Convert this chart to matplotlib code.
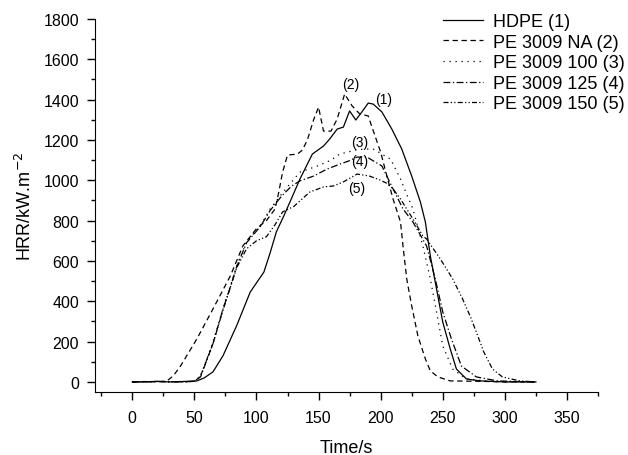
import matplotlib
matplotlib.use("Agg")
import matplotlib.pyplot as plt
from matplotlib.ticker import MultipleLocator

plt.rcParams['font.family'] = ['Liberation Sans', 'DejaVu Sans']

# HDPE (1)
t1 = [0, 10, 20, 30, 40, 52, 58, 65, 73, 84, 95, 106, 111, 116, 122, 128, 135, 145, 154, 159,
      165, 170, 175, 180, 185, 190, 194, 201, 209, 217, 225, 232, 236, 240, 245, 250, 256, 261,
      269, 280, 300, 325]
v1 = [0, 0, 3, 0, 2, 5, 20, 50, 129, 278, 446, 545, 640, 744, 823, 907, 1006, 1130, 1170, 1205,
      1254, 1264, 1344, 1299, 1340, 1383, 1378, 1339, 1254, 1155, 1021, 892, 793, 625, 461, 297,
      164, 64, 15, 5, 0, 0]

# PE 3009 NA (2)
t2 = [0, 10, 20, 28, 33, 39, 52, 65, 79, 89, 100, 108, 115, 118, 121, 125, 133, 137, 141, 146,
      150, 154, 160, 165, 171, 177, 183, 190, 193, 200, 205, 210, 216, 218, 221, 225, 230, 236,
      240, 246, 256, 280, 300, 325]
v2 = [0, 2, 0, 5, 30, 80, 213, 362, 526, 674, 760, 800, 858, 942, 1040, 1125, 1130, 1150, 1200,
      1300, 1363, 1244, 1244, 1304, 1428, 1369, 1330, 1319, 1264, 1140, 1021, 907, 793, 674, 511,
      377, 228, 114, 55, 25, 5, 3, 0, 0]

# PE 3009 100 (3)
t3 = [0, 20, 40, 50, 55, 65, 73, 79, 84, 92, 103, 111, 120, 128, 135, 149, 160, 167, 180, 187,
      194, 201, 208, 216, 221, 226, 234, 240, 245, 250, 258, 269, 285, 300, 325]
v3 = [0, 2, 0, 3, 30, 198, 362, 476, 575, 694, 773, 858, 930, 990, 1040, 1071, 1100, 1130, 1150,
      1155, 1155, 1130, 1105, 1006, 930, 858, 674, 511, 347, 179, 64, 15, 5, 2, 0]

# PE 3009 125 (4)
t4 = [0, 20, 40, 50, 55, 65, 73, 79, 84, 92, 103, 111, 120, 128, 135, 146, 157, 167, 174, 181,
      189, 201, 210, 218, 226, 237, 244, 250, 257, 265, 277, 294, 310, 325]
v4 = [0, 2, 0, 3, 25, 190, 360, 470, 570, 690, 770, 850, 920, 970, 997, 1021, 1056, 1080, 1095,
      1115, 1115, 1071, 957, 858, 793, 674, 511, 347, 213, 79, 25, 5, 2, 0]

# PE 3009 150 (5)
t5 = [0, 20, 40, 50, 55, 65, 73, 79, 84, 92, 100, 108, 115, 121, 130, 143, 154, 162, 170, 181,
      191, 200, 205, 210, 216, 226, 234, 237, 248, 258, 266, 272, 277, 283, 290, 298, 312, 325]
v5 = [0, 2, 0, 3, 30, 190, 355, 470, 565, 660, 700, 720, 780, 843, 870, 942, 967, 972, 992, 1031,
      1021, 1000, 985, 957, 907, 808, 724, 709, 610, 511, 411, 327, 248, 149, 64, 25, 5, 0]

labels = ["HDPE (1)", "PE 3009 NA (2)", "PE 3009 100 (3)", "PE 3009 125 (4)", "PE 3009 150 (5)"]
annot_text = ["(1)", "(2)", "(3)", "(4)", "(5)"]
annot_t = [202, 176, 183, 183, 181]
annot_v = [1405, 1480, 1190, 1095, 960]

styles = ['-', (0, (4.3, 2.9)), (0, (1, 3.8)), (0, (5.5, 2, 1, 2)), (0, (4, 1.8, 1, 1.8, 1, 1.8))]

fig = plt.figure(figsize=(6.28, 4.56), dpi=100)
ax = fig.add_axes([95/628, 1 - 393/456, (598 - 95)/628, (393 - 20)/456])

series = [(t1, v1), (t2, v2), (t3, v3), (t4, v4), (t5, v5)]
for (t, v), ls, lab in zip(series, styles, labels):
    ax.plot(t, v, color='black', lw=0.9, linestyle=ls, label=lab)

for s, tx, ty in zip(annot_text, annot_t, annot_v):
    ax.text(tx, ty, s, fontsize=10, ha='center', va='center')

ax.set_xlim(-30, 375)
ax.set_ylim(-50, 1800)
ax.xaxis.set_minor_locator(MultipleLocator(25))
ax.yaxis.set_minor_locator(MultipleLocator(100))
ax.set_xticks([0, 50, 100, 150, 200, 250, 300, 350])
ax.set_yticks(range(0, 1801, 200))
ax.spines['top'].set_visible(False)
ax.spines['right'].set_visible(False)
ax.tick_params(which='major', direction='out', length=6, width=1, labelsize=11.5)
ax.tick_params(which='minor', direction='out', length=3, width=1)
ax.tick_params(axis='x', which='major', pad=7)
ax.tick_params(axis='y', which='major', pad=5.5)
ax.set_xlabel("Time/s", fontsize=13, labelpad=10)
ax.set_ylabel("HRR/kW.m$^{-2}$", fontsize=13, labelpad=6)

leg = ax.legend(loc='upper left', bbox_to_anchor=(443/628, 1 - 14/456),
                bbox_transform=fig.transFigure, frameon=False, fontsize=13,
                handlelength=2.2, handletextpad=0.55, borderpad=0, borderaxespad=0,
                labelspacing=0.2)

fig.savefig("out.png", dpi=100)
